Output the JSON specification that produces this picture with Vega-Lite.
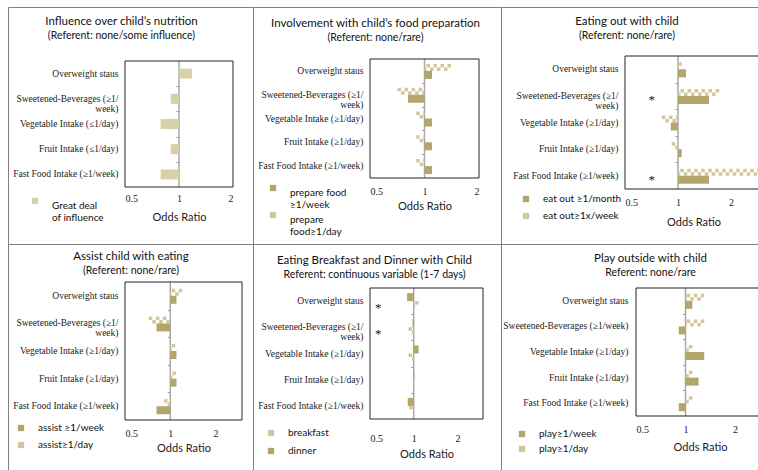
{
  "$schema": "https://vega.github.io/schema/vega-lite/v6.json",
  "padding": {"left": 7, "top": 6, "right": 0, "bottom": 0},
  "background": "white",
  "config": {
    "font": "Lato",
    "view": {"stroke": "#808080", "strokeWidth": 1, "fill": "white"},
    "axis": {"grid": false, "domain": false, "ticks": false, "labelFont": "Liberation Serif", "labelColor": "#222", "labelFontSize": 10, "titleFont": "Lato", "titleFontSize": 11, "titleFontWeight": "normal", "titleColor": "#222"},
    "legend": {"labelFont": "Lato", "labelFontSize": 10, "labelColor": "#111", "symbolType": "square", "symbolSize": 40, "symbolStrokeWidth": 0, "labelOffset": 12},
    "title": {"font": "Lato", "fontSize": 11.5, "fontWeight": "normal", "color": "#111", "subtitleFont": "Lato", "subtitleFontSize": 10.5, "subtitleColor": "#111", "subtitlePadding": 3, "anchor": "middle", "frame": "group"}
  },
  "datasets": {
    "p1": [
      {"cat": "Overweight staus", "series": "Great deal of influence", "kind": "solid", "or": 1.18},
      {"cat": "Sweetened-Beverages (≥1/week)", "series": "Great deal of influence", "kind": "solid", "or": 0.9},
      {"cat": "Vegetable Intake (≤1/day)", "series": "Great deal of influence", "kind": "solid", "or": 0.79},
      {"cat": "Fruit Intake (≤1/day)", "series": "Great deal of influence", "kind": "solid", "or": 0.9},
      {"cat": "Fast Food Intake (≥1/week)", "series": "Great deal of influence", "kind": "solid", "or": 0.79}
    ],
    "p2": [
      {"cat": "Overweight staus", "series": "prepare food ≥1/week", "kind": "solid", "or": 1.1},
      {"cat": "Overweight staus", "series": "prepare food≥1/day", "kind": "checker", "or": 1.4},
      {"cat": "Sweetened-Beverages (≥1/week)", "series": "prepare food ≥1/week", "kind": "solid", "or": 0.81},
      {"cat": "Sweetened-Beverages (≥1/week)", "series": "prepare food≥1/day", "kind": "checker", "or": 0.71},
      {"cat": "Vegetable Intake (≥1/day)", "series": "prepare food ≥1/week", "kind": "solid", "or": 1.1},
      {"cat": "Vegetable Intake (≥1/day)", "series": "prepare food≥1/day", "kind": "checker", "or": 0.9},
      {"cat": "Fruit Intake (≥1/day)", "series": "prepare food ≥1/week", "kind": "solid", "or": 1.1},
      {"cat": "Fruit Intake (≥1/day)", "series": "prepare food≥1/day", "kind": "checker", "or": 0.9},
      {"cat": "Fast Food Intake (≥1/week)", "series": "prepare food ≥1/week", "kind": "solid", "or": 1.1},
      {"cat": "Fast Food Intake (≥1/week)", "series": "prepare food≥1/day", "kind": "checker", "or": 0.9}
    ],
    "p3": [
      {"cat": "Overweight staus", "series": "eat out ≥1/month", "kind": "solid", "or": 1.11, "sig": false},
      {"cat": "Overweight staus", "series": "eat out≥1x/week", "kind": "checker", "or": 1.05, "sig": false},
      {"cat": "Sweetened-Beverages (≥1/week)", "series": "eat out ≥1/month", "kind": "solid", "or": 1.5, "sig": false},
      {"cat": "Sweetened-Beverages (≥1/week)", "series": "eat out≥1x/week", "kind": "checker", "or": 1.71, "sig": true},
      {"cat": "Vegetable Intake (≥1/day)", "series": "eat out ≥1/month", "kind": "solid", "or": 0.91, "sig": false},
      {"cat": "Vegetable Intake (≥1/day)", "series": "eat out≥1x/week", "kind": "checker", "or": 0.81, "sig": false},
      {"cat": "Fruit Intake (≥1/day)", "series": "eat out ≥1/month", "kind": "solid", "or": 1.05, "sig": false},
      {"cat": "Fruit Intake (≥1/day)", "series": "eat out≥1x/week", "kind": "checker", "or": 0.92, "sig": false},
      {"cat": "Fast Food Intake (≥1/week)", "series": "eat out ≥1/month", "kind": "solid", "or": 1.5, "sig": false},
      {"cat": "Fast Food Intake (≥1/week)", "series": "eat out≥1x/week", "kind": "checker", "or": 2.95, "sig": true}
    ],
    "p4": [
      {"cat": "Overweight staus", "series": "assist ≥1/week", "kind": "solid", "or": 1.1},
      {"cat": "Overweight staus", "series": "assist≥1/day", "kind": "checker", "or": 1.2},
      {"cat": "Sweetened-Beverages (≥1/week)", "series": "assist ≥1/week", "kind": "solid", "or": 0.81},
      {"cat": "Sweetened-Beverages (≥1/week)", "series": "assist≥1/day", "kind": "checker", "or": 0.72},
      {"cat": "Vegetable Intake (≥1/day)", "series": "assist ≥1/week", "kind": "solid", "or": 1.1},
      {"cat": "Vegetable Intake (≥1/day)", "series": "assist≥1/day", "kind": "checker", "or": 1.08},
      {"cat": "Fruit Intake (≥1/day)", "series": "assist ≥1/week", "kind": "solid", "or": 1.1},
      {"cat": "Fruit Intake (≥1/day)", "series": "assist≥1/day", "kind": "checker", "or": 1.09},
      {"cat": "Fast Food Intake (≥1/week)", "series": "assist ≥1/week", "kind": "solid", "or": 0.81},
      {"cat": "Fast Food Intake (≥1/week)", "series": "assist≥1/day", "kind": "checker", "or": 0.91}
    ],
    "p5": [
      {"cat": "Overweight staus", "series": "dinner", "kind": "solid", "or": 0.9, "sig": false},
      {"cat": "Overweight staus", "series": "breakfast", "kind": "checker", "or": 1.08, "sig": true},
      {"cat": "Sweetened-Beverages (≥1/week)", "series": "dinner", "kind": "solid", "or": 0.98, "sig": false},
      {"cat": "Sweetened-Beverages (≥1/week)", "series": "breakfast", "kind": "checker", "or": 0.92, "sig": true},
      {"cat": "Vegetable Intake (≥1/day)", "series": "dinner", "kind": "solid", "or": 1.08, "sig": false},
      {"cat": "Vegetable Intake (≥1/day)", "series": "breakfast", "kind": "checker", "or": 0.92, "sig": false},
      {"cat": "Fruit Intake (≥1/day)", "series": "dinner", "kind": "solid", "or": 1.01, "sig": false},
      {"cat": "Fruit Intake (≥1/day)", "series": "breakfast", "kind": "checker", "or": 0.99, "sig": false},
      {"cat": "Fast Food Intake (≥1/week)", "series": "dinner", "kind": "solid", "or": 0.91, "sig": false},
      {"cat": "Fast Food Intake (≥1/week)", "series": "breakfast", "kind": "checker", "or": 0.93, "sig": false}
    ],
    "p6": [
      {"cat": "Overweight staus", "series": "play≥1/week", "kind": "solid", "or": 1.1},
      {"cat": "Overweight staus", "series": "play≥1/day", "kind": "checker", "or": 1.3},
      {"cat": "Sweetened-Beverages (≥1/week)", "series": "play≥1/week", "kind": "solid", "or": 0.91},
      {"cat": "Sweetened-Beverages (≥1/week)", "series": "play≥1/day", "kind": "checker", "or": 1.3},
      {"cat": "Vegetable Intake (≥1/day)", "series": "play≥1/week", "kind": "solid", "or": 1.3},
      {"cat": "Vegetable Intake (≥1/day)", "series": "play≥1/day", "kind": "checker", "or": 1.1},
      {"cat": "Fruit Intake (≥1/day)", "series": "play≥1/week", "kind": "solid", "or": 1.2},
      {"cat": "Fruit Intake (≥1/day)", "series": "play≥1/day", "kind": "checker", "or": 1.1},
      {"cat": "Fast Food Intake (≥1/week)", "series": "play≥1/week", "kind": "solid", "or": 0.91},
      {"cat": "Fast Food Intake (≥1/week)", "series": "play≥1/day", "kind": "checker", "or": 1.1}
    ]
  },
  "columns": 3,
  "spacing": 0,
  "bounds": "flush",
  "resolve": {"scale": {"color": "independent"}, "legend": {"color": "independent"}},
  "concat": [
    {
      "width": 245, "height": 237,
      "title": {"text": "Influence over child’s nutrition", "subtitle": "(Referent: none/some influence)", "offset": -34, "dx": -9},
      "layer": [
        {
          "data": {"values": [{}]},
          "layer": [
            {"mark": {"type": "rule", "color": "#a8a8a8", "strokeWidth": 1.5},
             "encoding": {
               "x": {"datum": 1, "type": "quantitative", "scale": {"type": "log", "domain": [0.5, 2], "range": [117, 225], "nice": false}, "axis": {"values": [0.5, 1, 2], "format": "~g", "title": "Odds Ratio", "offset": -57, "labelPadding": 6, "titlePadding": 8}},
               "y": {"datum": 0, "type": "quantitative", "scale": {"domain": [0, 1], "range": [54, 180], "nice": false}, "axis": {"orient": "left", "values": [0.2, 0.4, 0.6, 0.8], "labels": false, "ticks": true, "tickSize": 3, "tickColor": "#999", "title": null, "offset": -171}},
               "y2": {"datum": 1}}},
            {"mark": {"type": "rect", "fillOpacity": 0, "stroke": "#222", "strokeWidth": 1},
             "encoding": {"x": {"datum": 0.5, "type": "quantitative"}, "x2": {"datum": 2}, "y": {"datum": 0, "type": "quantitative"}, "y2": {"datum": 1}}}
          ]
        },
        {
          "data": {"name": "p1"},
          "layer": [
            {"mark": {"type": "bar", "height": 10},
             "encoding": {
               "x": {"field": "or", "type": "quantitative", "title": "Odds Ratio"},
               "x2": {"datum": 1},
               "y": {"field": "cat", "type": "nominal", "title": null, "scale": {"domain": ["Overweight staus", "Sweetened-Beverages (≥1/week)", "Vegetable Intake (≤1/day)", "Fruit Intake (≤1/day)", "Fast Food Intake (≥1/week)"], "range": [54, 180], "paddingInner": 0, "paddingOuter": 0}, "axis": {"orient": "left", "offset": -117, "labelPadding": 7, "labelFontSize": 9.5, "labelLineHeight": 10, "labelExpr": "datum.label == 'Sweetened-Beverages (≥1/week)' ? ['Sweetened-Beverages (≥1/', 'week)'] : datum.label"}},
               "color": {"field": "series", "type": "nominal", "scale": {"domain": ["Great deal of influence"], "range": ["#d9d0aa"]}, "legend": {"title": null, "orient": "none", "legendX": 22, "legendY": 189, "labelBaseline": "top", "labelExpr": "['Great deal', 'of influence']"}}}}
          ]
        }
      ],
      "resolve": {"scale": {"y": "independent"}}
    },
    {
      "width": 248, "height": 237,
      "title": {"text": "Involvement with child’s food preparation", "subtitle": "(Referent: none/rare)", "offset": -36, "dx": -1.5},
      "layer": [
        {
          "data": {"values": [{}]},
          "layer": [
            {"mark": {"type": "rule", "color": "#a8a8a8", "strokeWidth": 1.5},
             "encoding": {
               "x": {"datum": 1, "type": "quantitative", "scale": {"type": "log", "domain": [0.5, 2], "range": [117, 226], "nice": false}, "axis": {"values": [0.5, 1, 2], "format": "~g", "title": "Odds Ratio", "offset": -66, "labelPadding": 8, "titlePadding": 4}},
               "y": {"datum": 0, "type": "quantitative", "scale": {"domain": [0, 1], "range": [52, 171], "nice": false}, "axis": {"orient": "left", "values": [0.2, 0.4, 0.6, 0.8], "labels": false, "ticks": true, "tickSize": 3, "tickColor": "#999", "title": null, "offset": -171.5}},
               "y2": {"datum": 1}}},
            {"mark": {"type": "rect", "fillOpacity": 0, "stroke": "#222", "strokeWidth": 1},
             "encoding": {"x": {"datum": 0.5, "type": "quantitative"}, "x2": {"datum": 2}, "y": {"datum": 0, "type": "quantitative"}, "y2": {"datum": 1}}}
          ]
        },
        {
          "data": {"name": "p2"},
          "layer": [
            {"transform": [{"filter": "datum.kind == 'checker'"}],
             "mark": {"type": "rule", "color": "#d2c79c", "strokeWidth": 3.5, "strokeDash": [3.5, 3.5], "yOffset": -5.25},
             "encoding": {"x": {"field": "or", "type": "quantitative", "title": "Odds Ratio"}, "x2": {"datum": 1}, "y": {"field": "cat", "type": "nominal", "title": null}}},
            {"transform": [{"filter": "datum.kind == 'checker'"}],
             "mark": {"type": "rule", "color": "#d2c79c", "strokeWidth": 3.5, "strokeDash": [3.5, 3.5], "strokeDashOffset": 3.5, "yOffset": -1.75},
             "encoding": {"x": {"field": "or", "type": "quantitative", "title": "Odds Ratio"}, "x2": {"datum": 1}, "y": {"field": "cat", "type": "nominal", "title": null}}},
            {"transform": [{"filter": "datum.kind == 'solid'"}],
             "mark": {"type": "bar", "height": 8, "yOffset": 4},
             "encoding": {
               "x": {"field": "or", "type": "quantitative", "title": "Odds Ratio"},
               "x2": {"datum": 1},
               "y": {"field": "cat", "type": "nominal", "title": null, "scale": {"domain": ["Overweight staus", "Sweetened-Beverages (≥1/week)", "Vegetable Intake (≥1/day)", "Fruit Intake (≥1/day)", "Fast Food Intake (≥1/week)"], "range": [52, 171], "paddingInner": 0, "paddingOuter": 0}, "axis": {"orient": "left", "offset": -117, "labelPadding": 7, "labelFontSize": 9.5, "labelLineHeight": 10, "labelExpr": "datum.label == 'Sweetened-Beverages (≥1/week)' ? ['Sweetened-Beverages (≥1/', 'week)'] : datum.label"}},
               "color": {"field": "series", "type": "nominal", "scale": {"domain": ["prepare food ≥1/week", "prepare food≥1/day"], "range": ["#b3a56c", "#d2c79c"]}, "legend": {"title": null, "orient": "none", "legendX": 15, "legendY": 176, "labelBaseline": "top", "rowPadding": 0, "labelExpr": "datum.label == 'prepare food ≥1/week' ? ['prepare food', '≥1/week'] : ['prepare', 'food≥1/day']"}}}}
          ]
        }
      ],
      "resolve": {"scale": {"y": "independent"}}
    },
    {
      "width": 262, "height": 237,
      "title": {"text": "Eating out with child", "subtitle": "(Referent: none/rare)", "offset": -34, "dx": -5},
      "layer": [
        {
          "data": {"values": [{}]},
          "layer": [
            {"mark": {"type": "rule", "color": "#a8a8a8", "strokeWidth": 1.5},
             "encoding": {
               "x": {"datum": 1, "type": "quantitative", "scale": {"type": "log", "domain": [0.5, 3], "range": [124, 261], "nice": false}, "axis": {"values": [0.5, 1, 2], "format": "~g", "title": "Odds Ratio", "offset": -55, "labelPadding": 8, "titlePadding": 9}},
               "y": {"datum": 0, "type": "quantitative", "scale": {"domain": [0, 1], "range": [49, 182], "nice": false}, "axis": {"orient": "left", "values": [0.2, 0.4, 0.6, 0.8], "labels": false, "ticks": true, "tickSize": 3, "tickColor": "#999", "title": null, "offset": -177}},
               "y2": {"datum": 1}}},
            {"mark": {"type": "rect", "fillOpacity": 0, "stroke": "#222", "strokeWidth": 1},
             "encoding": {"x": {"datum": 0.5, "type": "quantitative"}, "x2": {"datum": 3}, "y": {"datum": 0, "type": "quantitative"}, "y2": {"datum": 1}}}
          ]
        },
        {
          "data": {"name": "p3"},
          "layer": [
            {"transform": [{"filter": "datum.kind == 'checker'"}],
             "mark": {"type": "rule", "color": "#d2c79c", "strokeWidth": 3.5, "strokeDash": [3.5, 3.5], "yOffset": -5.25},
             "encoding": {"x": {"field": "or", "type": "quantitative", "title": "Odds Ratio"}, "x2": {"datum": 1}, "y": {"field": "cat", "type": "nominal", "title": null}}},
            {"transform": [{"filter": "datum.kind == 'checker'"}],
             "mark": {"type": "rule", "color": "#d2c79c", "strokeWidth": 3.5, "strokeDash": [3.5, 3.5], "strokeDashOffset": 3.5, "yOffset": -1.75},
             "encoding": {"x": {"field": "or", "type": "quantitative", "title": "Odds Ratio"}, "x2": {"datum": 1}, "y": {"field": "cat", "type": "nominal", "title": null}}},
            {"transform": [{"filter": "datum.kind == 'solid'"}],
             "mark": {"type": "bar", "height": 8, "yOffset": 4},
             "encoding": {
               "x": {"field": "or", "type": "quantitative", "title": "Odds Ratio"},
               "x2": {"datum": 1},
               "y": {"field": "cat", "type": "nominal", "title": null, "scale": {"domain": ["Overweight staus", "Sweetened-Beverages (≥1/week)", "Vegetable Intake (≥1/day)", "Fruit Intake (≥1/day)", "Fast Food Intake (≥1/week)"], "range": [49, 182], "paddingInner": 0, "paddingOuter": 0}, "axis": {"orient": "left", "offset": -124, "labelPadding": 7, "labelFontSize": 9.5, "labelLineHeight": 10, "labelExpr": "datum.label == 'Sweetened-Beverages (≥1/week)' ? ['Sweetened-Beverages (≥1/', 'week)'] : datum.label"}},
               "color": {"field": "series", "type": "nominal", "scale": {"domain": ["eat out ≥1/month", "eat out≥1x/week"], "range": ["#b3a56c", "#d2c79c"]}, "legend": {"title": null, "orient": "none", "legendX": 20, "legendY": 187, "rowPadding": 7}}}},
            {"transform": [{"filter": "datum.sig"}],
             "mark": {"type": "text", "text": "*", "font": "Liberation Serif", "fontSize": 13, "dy": 4, "color": "#111"},
             "encoding": {"x": {"datum": 0.71, "type": "quantitative"}, "y": {"field": "cat", "type": "nominal", "title": null}}}
          ]
        }
      ],
      "resolve": {"scale": {"y": "independent"}}
    },
    {
      "width": 245, "height": 228,
      "title": {"text": "Assist child with eating", "subtitle": "(Referent: none/rare)", "offset": -32, "dx": 0.5},
      "layer": [
        {
          "data": {"values": [{}]},
          "layer": [
            {"mark": {"type": "rule", "color": "#a8a8a8", "strokeWidth": 1.5},
             "encoding": {
               "x": {"datum": 1, "type": "quantitative", "scale": {"type": "log", "domain": [0.5, 3], "range": [117, 234], "nice": false}, "axis": {"values": [0.5, 1, 2], "format": "~g", "title": "Odds Ratio", "offset": -52, "labelPadding": 8, "titlePadding": 4}},
               "y": {"datum": 0, "type": "quantitative", "scale": {"domain": [0, 1], "range": [38, 176], "nice": false}, "axis": {"orient": "left", "values": [0.2, 0.4, 0.6, 0.8], "labels": false, "ticks": true, "tickSize": 3, "tickColor": "#999", "title": null, "offset": -162.3}},
               "y2": {"datum": 1}}},
            {"mark": {"type": "rect", "fillOpacity": 0, "stroke": "#222", "strokeWidth": 1},
             "encoding": {"x": {"datum": 0.5, "type": "quantitative"}, "x2": {"datum": 3}, "y": {"datum": 0, "type": "quantitative"}, "y2": {"datum": 1}}}
          ]
        },
        {
          "data": {"name": "p4"},
          "layer": [
            {"transform": [{"filter": "datum.kind == 'checker'"}],
             "mark": {"type": "rule", "color": "#d2c79c", "strokeWidth": 3.5, "strokeDash": [3.5, 3.5], "yOffset": -5.25},
             "encoding": {"x": {"field": "or", "type": "quantitative", "title": "Odds Ratio"}, "x2": {"datum": 1}, "y": {"field": "cat", "type": "nominal", "title": null}}},
            {"transform": [{"filter": "datum.kind == 'checker'"}],
             "mark": {"type": "rule", "color": "#d2c79c", "strokeWidth": 3.5, "strokeDash": [3.5, 3.5], "strokeDashOffset": 3.5, "yOffset": -1.75},
             "encoding": {"x": {"field": "or", "type": "quantitative", "title": "Odds Ratio"}, "x2": {"datum": 1}, "y": {"field": "cat", "type": "nominal", "title": null}}},
            {"transform": [{"filter": "datum.kind == 'solid'"}],
             "mark": {"type": "bar", "height": 8, "yOffset": 4},
             "encoding": {
               "x": {"field": "or", "type": "quantitative", "title": "Odds Ratio"},
               "x2": {"datum": 1},
               "y": {"field": "cat", "type": "nominal", "title": null, "scale": {"domain": ["Overweight staus", "Sweetened-Beverages (≥1/week)", "Vegetable Intake (≥1/day)", "Fruit Intake (≥1/day)", "Fast Food Intake (≥1/week)"], "range": [38, 176], "paddingInner": 0, "paddingOuter": 0}, "axis": {"orient": "left", "offset": -117, "labelPadding": 7, "labelFontSize": 9.5, "labelLineHeight": 10, "labelExpr": "datum.label == 'Sweetened-Beverages (≥1/week)' ? ['Sweetened-Beverages (≥1/', 'week)'] : datum.label"}},
               "color": {"field": "series", "type": "nominal", "scale": {"domain": ["assist ≥1/week", "assist≥1/day"], "range": ["#b3a56c", "#d2c79c"]}, "legend": {"title": null, "orient": "none", "legendX": 8, "legendY": 179, "rowPadding": 7}}}}
          ]
        }
      ],
      "resolve": {"scale": {"y": "independent"}}
    },
    {
      "width": 248, "height": 228,
      "title": {"text": "Eating Breakfast and Dinner with Child", "subtitle": "Referent: continuous variable (1-7 days)", "offset": -36, "dx": -2.5},
      "layer": [
        {
          "data": {"values": [{}]},
          "layer": [
            {"mark": {"type": "rule", "color": "#a8a8a8", "strokeWidth": 1.5},
             "encoding": {
               "x": {"datum": 1, "type": "quantitative", "scale": {"type": "log", "domain": [0.5, 3], "range": [117, 230], "nice": false}, "axis": {"values": [0.5, 1, 2], "format": "~g", "title": "Odds Ratio", "offset": -53, "labelPadding": 14, "titlePadding": 5}},
               "y": {"datum": 0, "type": "quantitative", "scale": {"domain": [0, 1], "range": [44, 175], "nice": false}, "axis": {"orient": "left", "values": [0.2, 0.4, 0.6, 0.8], "labels": false, "ticks": true, "tickSize": 3, "tickColor": "#999", "title": null, "offset": -160.7}},
               "y2": {"datum": 1}}},
            {"mark": {"type": "rect", "fillOpacity": 0, "stroke": "#222", "strokeWidth": 1},
             "encoding": {"x": {"datum": 0.5, "type": "quantitative"}, "x2": {"datum": 3}, "y": {"datum": 0, "type": "quantitative"}, "y2": {"datum": 1}}}
          ]
        },
        {
          "data": {"name": "p5"},
          "layer": [
            {"transform": [{"filter": "datum.kind == 'checker'"}],
             "mark": {"type": "rule", "color": "#d2c79c", "strokeWidth": 3.5, "strokeDash": [3.5, 3.5], "yOffset": 1.75},
             "encoding": {"x": {"field": "or", "type": "quantitative", "title": "Odds Ratio"}, "x2": {"datum": 1}, "y": {"field": "cat", "type": "nominal", "title": null}}},
            {"transform": [{"filter": "datum.kind == 'checker'"}],
             "mark": {"type": "rule", "color": "#d2c79c", "strokeWidth": 3.5, "strokeDash": [3.5, 3.5], "strokeDashOffset": 3.5, "yOffset": 5.25},
             "encoding": {"x": {"field": "or", "type": "quantitative", "title": "Odds Ratio"}, "x2": {"datum": 1}, "y": {"field": "cat", "type": "nominal", "title": null}}},
            {"transform": [{"filter": "datum.kind == 'solid'"}],
             "mark": {"type": "bar", "height": 8, "yOffset": -4},
             "encoding": {
               "x": {"field": "or", "type": "quantitative", "title": "Odds Ratio"},
               "x2": {"datum": 1},
               "y": {"field": "cat", "type": "nominal", "title": null, "scale": {"domain": ["Overweight staus", "Sweetened-Beverages (≥1/week)", "Vegetable Intake (≥1/day)", "Fruit Intake (≥1/day)", "Fast Food Intake (≥1/week)"], "range": [44, 175], "paddingInner": 0, "paddingOuter": 0}, "axis": {"orient": "left", "offset": -117, "labelPadding": 7, "labelFontSize": 9.5, "labelLineHeight": 10, "labelExpr": "datum.label == 'Sweetened-Beverages (≥1/week)' ? ['Sweetened-Beverages (≥1/', 'week)'] : datum.label"}},
               "color": {"field": "series", "type": "nominal", "scale": {"domain": ["breakfast", "dinner"], "range": ["#d2c79c", "#b3a56c"]}, "legend": {"title": null, "orient": "none", "legendX": 13, "legendY": 184, "rowPadding": 8}}}},
            {"transform": [{"filter": "datum.sig"}],
             "mark": {"type": "text", "text": "*", "font": "Liberation Serif", "fontSize": 13, "dy": 7, "color": "#111"},
             "encoding": {"x": {"datum": 0.57, "type": "quantitative"}, "y": {"field": "cat", "type": "nominal", "title": null}}}
          ]
        }
      ],
      "resolve": {"scale": {"y": "independent"}}
    },
    {
      "width": 262, "height": 228,
      "title": {"text": "Play outside with child", "subtitle": "Referent: none/rare", "offset": -34, "dx": 18.5},
      "layer": [
        {
          "data": {"values": [{}]},
          "layer": [
            {"mark": {"type": "rule", "color": "#a8a8a8", "strokeWidth": 1.5},
             "encoding": {
               "x": {"datum": 1, "type": "quantitative", "scale": {"type": "log", "domain": [0.5, 3], "range": [135, 263], "nice": false}, "axis": {"values": [0.5, 1, 2], "format": "~g", "title": "Odds Ratio", "offset": -56, "labelPadding": 8, "titlePadding": 7}},
               "y": {"datum": 0, "type": "quantitative", "scale": {"domain": [0, 1], "range": [44, 172], "nice": false}, "axis": {"orient": "left", "values": [0.2, 0.4, 0.6, 0.8], "labels": false, "ticks": true, "tickSize": 3, "tickColor": "#999", "title": null, "offset": -184.5}},
               "y2": {"datum": 1}}},
            {"mark": {"type": "rect", "fillOpacity": 0, "stroke": "#222", "strokeWidth": 1},
             "encoding": {"x": {"datum": 0.5, "type": "quantitative"}, "x2": {"datum": 3}, "y": {"datum": 0, "type": "quantitative"}, "y2": {"datum": 1}}}
          ]
        },
        {
          "data": {"name": "p6"},
          "layer": [
            {"transform": [{"filter": "datum.kind == 'checker'"}],
             "mark": {"type": "rule", "color": "#d2c79c", "strokeWidth": 3.5, "strokeDash": [3.5, 3.5], "yOffset": -5.25},
             "encoding": {"x": {"field": "or", "type": "quantitative", "title": "Odds Ratio"}, "x2": {"datum": 1}, "y": {"field": "cat", "type": "nominal", "title": null}}},
            {"transform": [{"filter": "datum.kind == 'checker'"}],
             "mark": {"type": "rule", "color": "#d2c79c", "strokeWidth": 3.5, "strokeDash": [3.5, 3.5], "strokeDashOffset": 3.5, "yOffset": -1.75},
             "encoding": {"x": {"field": "or", "type": "quantitative", "title": "Odds Ratio"}, "x2": {"datum": 1}, "y": {"field": "cat", "type": "nominal", "title": null}}},
            {"transform": [{"filter": "datum.kind == 'solid'"}],
             "mark": {"type": "bar", "height": 8, "yOffset": 4},
             "encoding": {
               "x": {"field": "or", "type": "quantitative", "title": "Odds Ratio"},
               "x2": {"datum": 1},
               "y": {"field": "cat", "type": "nominal", "title": null, "scale": {"domain": ["Overweight staus", "Sweetened-Beverages (≥1/week)", "Vegetable Intake (≥1/day)", "Fruit Intake (≥1/day)", "Fast Food Intake (≥1/week)"], "range": [44, 172], "paddingInner": 0, "paddingOuter": 0}, "axis": {"orient": "left", "offset": -135, "labelPadding": 8, "labelFontSize": 9.5}},
               "color": {"field": "series", "type": "nominal", "scale": {"domain": ["play≥1/week", "play≥1/day"], "range": ["#b3a56c", "#d2c79c"]}, "legend": {"title": null, "orient": "none", "legendX": 16, "legendY": 185, "rowPadding": 5}}}}
          ]
        }
      ],
      "resolve": {"scale": {"y": "independent"}}
    }
  ]
}
